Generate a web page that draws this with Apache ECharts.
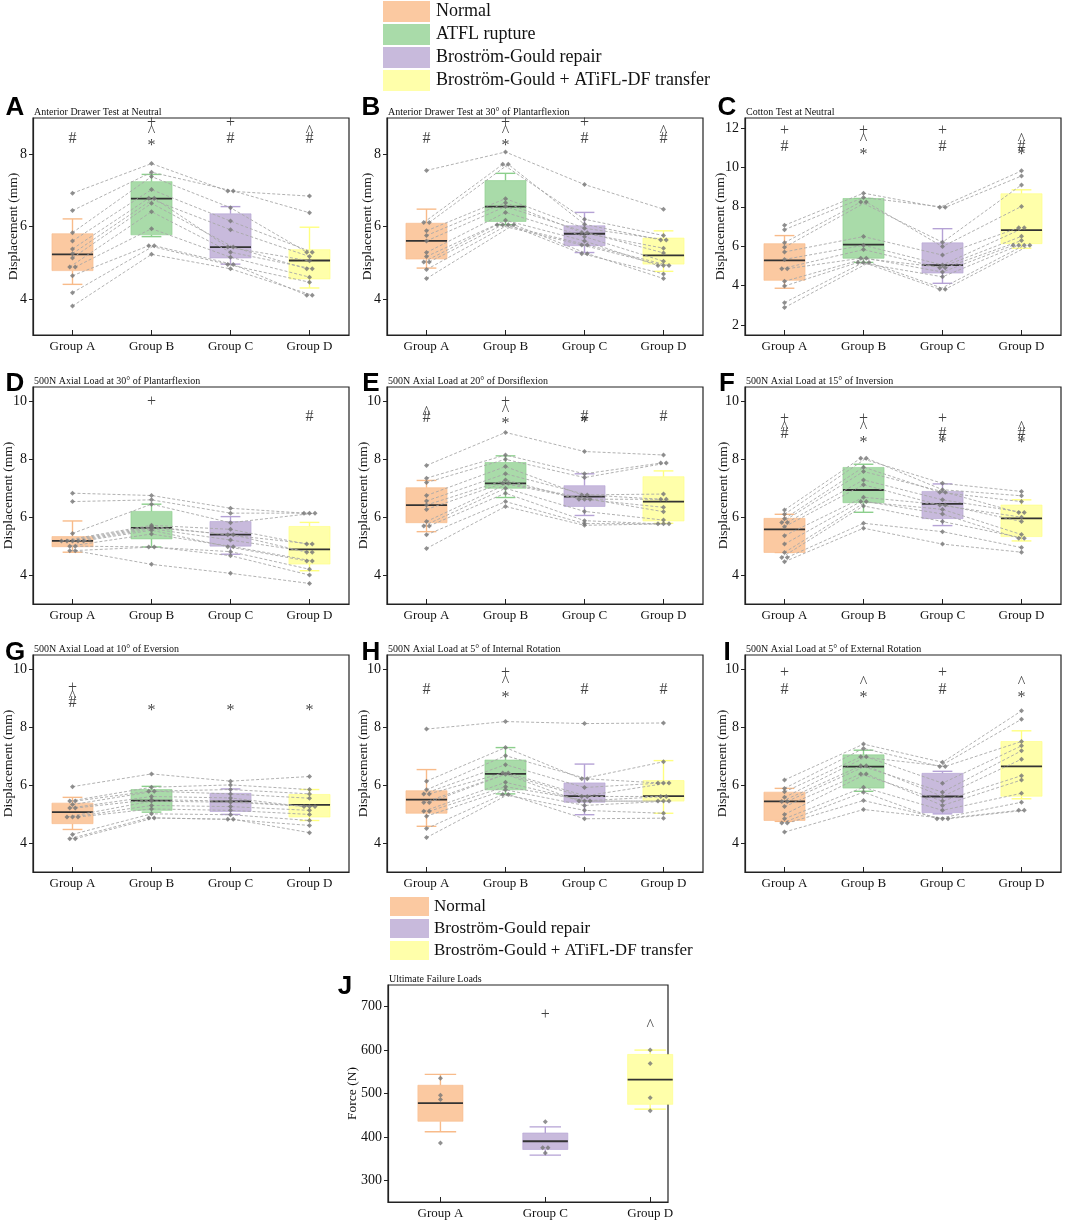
<!DOCTYPE html>
<html>
<head>
<meta charset="utf-8">
<script src="https://cdn.jsdelivr.net/npm/echarts@6/dist/echarts.min.js"></script>
<style>
  html, body { margin: 0; padding: 0; background: #fff; }
  #chart { width: 1065px; height: 1221px; }
</style>
</head>
<body>
<div id="chart"></div>
<script>
var groupNames = ['Group A', 'Group B', 'Group C', 'Group D'];
var groupNamesJ = ['Group A', 'Group C', 'Group D'];
var legendTop = ['Normal', 'ATFL rupture', 'Broström-Gould repair', 'Broström-Gould + ATiFL-DF transfer'];
var legendMid = ['Normal', 'Broström-Gould repair', 'Broström-Gould + ATiFL-DF transfer'];
var fillColors = ['#fbc9a1', '#a9dba9', '#c8badc', '#ffffaa'];
var whiskerColors = ['#f8bb8a', '#8ccf8c', '#b5a2d5', '#ffff80'];
var panelLetters = ['A', 'B', 'C', 'D', 'E', 'F', 'G', 'H', 'I', 'J'];
var panelTitles = [
  'Anterior Drawer Test at Neutral',
  'Anterior Drawer Test at 30° of Plantarflexion',
  'Cotton Test at Neutral',
  '500N Axial Load at 30° of Plantarflexion',
  '500N Axial Load at 20° of Dorsiflexion',
  '500N Axial Load at 15° of Inversion',
  '500N Axial Load at 10° of Eversion',
  '500N Axial Load at 5° of Internal Rotation',
  '500N Axial Load at 5° of External Rotation',
  'Ultimate Failure Loads'
];
var yNames = ['Displacement (mm)', 'Force (N)'];

// specimens per group, high to low (index i is joined across groups)
var ptsA = [
  [6.92, 6.44, 5.83, 5.6, 5.38, 5.25, 5.13, 4.88, 4.88, 4.64, 4.17, 3.8],
  [7.74, 7.5, 7.38, 7.02, 6.78, 6.78, 6.64, 6.41, 5.94, 5.47, 5.47, 5.23],
  [6.98, 6.98, 6.52, 6.15, 5.91, 5.43, 5.43, 5.29, 5.15, 4.95, 4.95, 4.83],
  [6.84, 6.38, 5.29, 5.29, 5.17, 5.05, 4.83, 4.83, 4.6, 4.46, 4.1, 4.1]
];
var ptsB = [
  [7.55, 6.11, 6.11, 5.88, 5.75, 5.6, 5.28, 5.17, 5.02, 5.02, 4.81, 4.56],
  [8.06, 7.72, 7.72, 6.77, 6.66, 6.55, 6.39, 6.17, 6.05, 6.05, 6.05, 6.05],
  [7.16, 6.2, 6.06, 5.95, 5.83, 5.83, 5.72, 5.6, 5.49, 5.49, 5.25, 5.25],
  [6.48, 5.75, 5.63, 5.63, 5.4, 5.27, 5.04, 4.92, 4.92, 4.92, 4.69, 4.56]
];
var ptsC = [
  [7.06, 6.84, 6.18, 5.95, 5.71, 5.33, 4.86, 4.86, 4.22, 3.98, 3.14, 2.89],
  [8.69, 8.47, 8.24, 8.24, 6.49, 6.05, 5.83, 5.39, 5.39, 5.18, 5.18, 5.18],
  [7.97, 7.97, 6.2, 5.98, 5.55, 5.05, 4.91, 4.91, 4.69, 4.45, 3.82, 3.82],
  [9.82, 9.56, 9.11, 8.02, 6.94, 6.94, 6.5, 6.29, 6.05, 6.05, 6.05, 6.05]
];
var ptsD = [
  [6.83, 6.54, 5.44, 5.18, 5.18, 5.18, 5.18, 5.18, 5.0, 5.0, 4.84, 4.84],
  [6.75, 6.6, 6.45, 5.72, 5.68, 5.64, 5.6, 5.55, 5.42, 4.97, 4.97, 4.37],
  [6.31, 6.14, 5.81, 5.58, 5.39, 5.39, 5.21, 4.98, 4.98, 4.81, 4.67, 4.06],
  [6.14, 6.14, 6.14, 5.07, 5.07, 4.79, 4.79, 4.49, 4.49, 4.2, 4.0, 3.71]
];
var ptsE = [
  [7.79, 7.35, 7.2, 6.75, 6.56, 6.42, 6.27, 5.85, 5.7, 5.7, 5.39, 4.92],
  [8.93, 8.15, 8.0, 7.75, 7.5, 7.29, 7.17, 7.17, 7.0, 6.83, 6.54, 6.37],
  [8.27, 7.5, 7.37, 6.77, 6.77, 6.62, 6.62, 6.62, 6.2, 5.88, 5.78, 5.72],
  [8.15, 7.87, 7.87, 6.8, 6.62, 6.62, 6.34, 6.19, 5.9, 5.77, 5.77, 5.77]
];
var ptsF = [
  [6.25, 6.1, 5.95, 5.82, 5.82, 5.67, 5.36, 5.07, 4.78, 4.61, 4.61, 4.46],
  [8.04, 8.04, 7.73, 7.58, 7.29, 7.12, 6.69, 6.54, 6.54, 6.39, 5.79, 5.62],
  [7.17, 6.95, 6.86, 6.86, 6.6, 6.42, 6.42, 6.27, 6.11, 5.85, 5.5, 5.07],
  [6.89, 6.74, 6.54, 6.16, 6.16, 6.0, 5.85, 5.4, 5.27, 5.27, 4.95, 4.79]
];
var ptsG = [
  [5.95, 5.45, 5.45, 5.33, 5.21, 5.21, 4.9, 4.9, 4.9, 4.3, 4.15, 4.15],
  [6.39, 5.93, 5.79, 5.79, 5.61, 5.5, 5.45, 5.3, 5.18, 5.01, 4.87, 4.87],
  [6.14, 6.01, 5.85, 5.7, 5.56, 5.45, 5.41, 5.26, 5.13, 4.98, 4.82, 4.82],
  [6.3, 5.85, 5.7, 5.55, 5.26, 5.26, 5.26, 5.13, 4.99, 4.78, 4.61, 4.36]
];
var ptsH = [
  [7.94, 6.14, 5.84, 5.7, 5.7, 5.4, 5.4, 5.1, 5.1, 4.93, 4.5, 4.19],
  [8.2, 7.3, 7.02, 6.71, 6.42, 6.42, 6.38, 6.1, 5.95, 5.84, 5.68, 5.68],
  [8.13, 6.22, 6.22, 5.92, 5.61, 5.61, 5.45, 5.45, 5.45, 5.3, 5.13, 4.84],
  [8.15, 6.81, 6.08, 6.08, 6.08, 5.61, 5.61, 5.45, 5.45, 5.45, 5.03, 4.86]
];
var ptsI = [
  [6.18, 5.89, 5.77, 5.58, 5.44, 5.44, 5.26, 4.99, 4.84, 4.69, 4.69, 4.38],
  [7.42, 7.27, 6.98, 6.98, 6.67, 6.67, 6.39, 6.39, 5.93, 5.76, 5.47, 5.16],
  [6.79, 6.65, 6.65, 6.07, 5.76, 5.61, 5.45, 5.3, 5.13, 4.84, 4.84, 4.84],
  [8.57, 8.28, 7.51, 7.36, 7.19, 6.9, 6.33, 6.18, 5.72, 5.41, 5.13, 5.13]
];
var ptsJ = [
  [535, 496, 486, 386],
  [435, 375, 375, 363],
  [600, 569, 490, 460]
];

// box stats: [lower whisker, Q1, median, Q3, upper whisker]
var boxA = [[4.4, 4.78, 5.23, 5.8, 6.21], [5.72, 5.77, 6.77, 7.24, 7.44], [4.96, 5.13, 5.43, 6.35, 6.55], [4.3, 4.55, 5.06, 5.36, 5.98]];
var boxB = [[4.85, 5.1, 5.6, 6.09, 6.48], [6.05, 6.14, 6.55, 7.27, 7.47], [5.28, 5.47, 5.8, 6.02, 6.39], [4.76, 4.96, 5.2, 5.68, 5.88]];
var boxC = [[3.87, 4.27, 5.28, 6.13, 6.54], [5.18, 5.39, 6.08, 8.42, 8.42], [4.12, 4.64, 5.04, 6.17, 6.89], [5.9, 6.13, 6.82, 8.66, 8.86]];
var boxD = [[4.79, 4.98, 5.18, 5.33, 5.87], [4.97, 5.25, 5.63, 6.2, 6.45], [4.72, 5.0, 5.4, 5.85, 6.02], [4.15, 4.38, 4.89, 5.68, 5.82]];
var boxE = [[5.5, 5.81, 6.42, 7.02, 7.27], [6.68, 7.0, 7.17, 7.89, 8.12], [6.06, 6.37, 6.71, 7.09, 7.5], [5.79, 5.87, 6.54, 7.4, 7.6]];
var boxF = [[4.78, 4.78, 5.58, 5.96, 6.1], [6.17, 6.5, 6.94, 7.72, 7.83], [5.71, 5.95, 6.46, 6.89, 7.15], [5.18, 5.33, 5.96, 6.42, 6.6]];
var boxG = [[4.47, 4.67, 5.07, 5.38, 5.58], [5.07, 5.13, 5.47, 5.85, 5.96], [4.99, 5.09, 5.44, 5.72, 5.87], [4.78, 4.9, 5.32, 5.68, 5.85]];
var boxH = [[4.58, 5.03, 5.5, 5.81, 6.54], [5.7, 5.84, 6.39, 6.87, 7.3], [4.98, 5.41, 5.62, 6.08, 6.73], [5.03, 5.45, 5.62, 6.16, 6.85]];
var boxI = [[4.75, 4.78, 5.44, 5.76, 5.89], [5.79, 5.9, 6.64, 7.05, 7.21], [5.01, 5.05, 5.61, 6.41, 6.48], [5.53, 5.62, 6.65, 7.51, 7.88]];
var boxJ = [[412, 436, 478, 519, 544], [358, 371, 390, 409, 423], [464, 475, 532, 590, 600]];

// significance marks: [group position, y, symbol]
var marksA = [[1, 8.43, '#'], [2, 8.87, '+'], [2, 8.62, '^'], [2, 8.22, '*'], [3, 8.87, '+'], [3, 8.43, '#'], [4, 8.62, '^'], [4, 8.43, '#']];
var marksB = [[1, 8.43, '#'], [2, 8.87, '+'], [2, 8.62, '^'], [2, 8.22, '*'], [3, 8.87, '+'], [3, 8.43, '#'], [4, 8.62, '^'], [4, 8.43, '#']];
var marksC = [[1, 11.83, '+'], [1, 11.04, '#'], [2, 11.83, '+'], [2, 11.4, '^'], [2, 10.66, '*'], [3, 11.83, '+'], [3, 11.04, '#'], [4, 11.4, '^'], [4, 11.04, '#'], [4, 10.66, '*']];
var marksD = [[2, 10.0, '+'], [4, 9.48, '#']];
var marksE = [[1, 9.62, '^'], [1, 9.45, '#'], [2, 10.0, '+'], [2, 9.68, '^'], [2, 9.22, '*'], [3, 9.48, '#'], [3, 9.25, '*'], [4, 9.48, '#']];
var marksF = [[1, 9.39, '+'], [1, 9.08, '^'], [1, 8.87, '#'], [2, 9.39, '+'], [2, 9.08, '^'], [2, 8.58, '*'], [3, 9.39, '+'], [3, 8.87, '#'], [3, 8.58, '*'], [4, 9.08, '^'], [4, 8.87, '#'], [4, 8.58, '*']];
var marksG = [[1, 9.37, '+'], [1, 9.07, '^'], [1, 8.85, '#'], [2, 8.57, '*'], [3, 8.57, '*'], [4, 8.57, '*']];
var marksH = [[1, 9.31, '#'], [2, 9.89, '+'], [2, 9.57, '^'], [2, 9.03, '*'], [3, 9.31, '#'], [4, 9.31, '#']];
var marksI = [[1, 9.89, '+'], [1, 9.31, '#'], [2, 9.55, '^'], [2, 9.03, '*'], [3, 9.89, '+'], [3, 9.31, '#'], [4, 9.55, '^'], [4, 9.03, '*']];
var marksJ = [[2, 681, '+'], [3, 655, '^']];

var ticksAB = [4, 6, 8];
var ticksC = [2, 4, 6, 8, 10, 12];
var ticksDI = [4, 6, 8, 10];
var ticksJ = [300, 400, 500, 600, 700];

var SERIF = '"Liberation Serif", "Times New Roman", serif';
var SANS = '"Liberation Sans", Arial, sans-serif';

var panels = [
  { pts: ptsA, box: boxA, marks: marksA, yMin: 3, yMax: 9, ticks: ticksAB },
  { pts: ptsB, box: boxB, marks: marksB, yMin: 3, yMax: 9, ticks: ticksAB },
  { pts: ptsC, box: boxC, marks: marksC, yMin: 1.5, yMax: 12.5, ticks: ticksC },
  { pts: ptsD, box: boxD, marks: marksD, yMin: 3, yMax: 10.5, ticks: ticksDI },
  { pts: ptsE, box: boxE, marks: marksE, yMin: 3, yMax: 10.5, ticks: ticksDI },
  { pts: ptsF, box: boxF, marks: marksF, yMin: 3, yMax: 10.5, ticks: ticksDI },
  { pts: ptsG, box: boxG, marks: marksG, yMin: 3, yMax: 10.5, ticks: ticksDI },
  { pts: ptsH, box: boxH, marks: marksH, yMin: 3, yMax: 10.5, ticks: ticksDI },
  { pts: ptsI, box: boxI, marks: marksI, yMin: 3, yMax: 10.5, ticks: ticksDI },
  { pts: ptsJ, box: boxJ, marks: marksJ, yMin: 250, yMax: 750, ticks: ticksJ, last: true }
];

var colLefts = [33, 387, 745];
var rowTops = [118, 387, 655];
var letterX = [15, 371, 727];
var letterY = [108, 384, 652.5];
// horizontal centre of each rotated y-axis title
var yNameX = [13, 367, 720, 8, 363, 723, 8, 363, 722, 352];

function dodge(vals, step) {
  return vals.map(function (v, i) {
    var same = vals.filter(function (w) { return w === v; }).length;
    var idx = vals.slice(0, i).filter(function (w) { return w === v; }).length;
    return (idx - (same - 1) / 2) * step;
  });
}

function renderBox(params, api) {
  var x = api.value(0);
  var ci = api.value(6), bw = api.value(7), cw = api.value(8);
  var lo = api.coord([x, api.value(1)]);
  var q1 = api.coord([x, api.value(2)]);
  var md = api.coord([x, api.value(3)]);
  var q3 = api.coord([x, api.value(4)]);
  var hi = api.coord([x, api.value(5)]);
  var half = api.coord([x + bw / 2, api.value(3)])[0] - md[0];
  var capHalf = api.coord([x + cw / 2, api.value(3)])[0] - md[0];
  var wc = whiskerColors[ci];
  var ws = { stroke: wc, lineWidth: 1.4 };
  return {
    type: 'group',
    children: [
      { type: 'line', shape: { x1: hi[0], y1: hi[1], x2: q3[0], y2: q3[1] }, style: ws },
      { type: 'line', shape: { x1: lo[0], y1: lo[1], x2: q1[0], y2: q1[1] }, style: ws },
      { type: 'line', shape: { x1: hi[0] - capHalf, y1: hi[1], x2: hi[0] + capHalf, y2: hi[1] }, style: ws },
      { type: 'line', shape: { x1: lo[0] - capHalf, y1: lo[1], x2: lo[0] + capHalf, y2: lo[1] }, style: ws },
      { type: 'rect', shape: { x: q3[0] - half, y: q3[1], width: 2 * half, height: Math.max(q1[1] - q3[1], 1) },
        style: { fill: fillColors[ci], stroke: wc, lineWidth: 0.6 } },
      { type: 'line', shape: { x1: md[0] - half, y1: md[1], x2: md[0] + half, y2: md[1] },
        style: { stroke: '#333', lineWidth: 1.8 } }
    ]
  };
}

var grids = [], xAxes = [], yAxes = [], series = [], graphics = [];

panels.forEach(function (p, k) {
  var left, top, width, xMax, names, colorIdx, bw, cw, step, yName;
  if (p.last) {
    left = 388; top = 985; width = 280; xMax = 3.17;
    names = groupNamesJ; colorIdx = [0, 2, 3]; bw = 0.43; cw = 0.3; step = 0.05;
    yName = yNames[1];
  } else {
    left = colLefts[k % 3]; top = rowTops[Math.floor(k / 3)]; width = 316; xMax = 4.5;
    names = groupNames; colorIdx = [0, 1, 2, 3]; bw = 0.52; cw = 0.25; step = 0.07;
    yName = yNames[0];
  }
  var xs = names.map(function (n, i) { return i + 1; });

  grids.push({ left: left, top: top, width: width, height: 217, show: true,
    outerBoundsMode: 'none', containLabel: false,
    borderColor: '#222', borderWidth: 1.2, backgroundColor: 'transparent' });

  xAxes.push({
    type: 'value', gridIndex: k, min: 0.5, max: xMax,
    axisLine: { show: true, lineStyle: { color: '#222', width: 1.2 } },
    axisTick: { show: true, inside: true, length: 5, customValues: xs, lineStyle: { color: '#222' } },
    axisLabel: { customValues: xs, margin: 5, color: '#111', fontFamily: SERIF, fontSize: 13,
      formatter: function (v) { return names[Math.round(v) - 1] || ''; } },
    splitLine: { show: false }
  });

  yAxes.push({
    type: 'value', gridIndex: k, min: p.yMin, max: p.yMax,
    axisLine: { show: true, lineStyle: { color: '#222', width: 1.2 } },
    axisTick: { show: true, inside: false, length: 4, customValues: p.ticks, lineStyle: { color: '#222' } },
    axisLabel: { customValues: p.ticks, margin: 6, color: '#111', fontFamily: SERIF, fontSize: 14 },
    splitLine: { show: false }
  });

  series.push({
    type: 'custom', xAxisIndex: k, yAxisIndex: k, z: 1, silent: true,
    renderItem: renderBox,
    encode: { x: 0, y: [1, 2, 3, 4, 5] },
    data: p.box.map(function (b, g) {
      return [xs[g], b[0], b[1], b[2], b[3], b[4], colorIdx[g], bw, cw];
    })
  });

  var offsets = p.pts.map(function (vals) { return dodge(vals, step); });

  if (!p.last) {
    var n = p.pts[0].length;
    var lineData = [];
    for (var i = 0; i < n; i++) {
      lineData.push({
        coords: p.pts.map(function (vals, g) { return [xs[g] + offsets[g][i], vals[i]]; })
      });
    }
    series.push({
      type: 'lines', coordinateSystem: 'cartesian2d', xAxisIndex: k, yAxisIndex: k,
      polyline: true, z: 2, silent: true,
      lineStyle: { color: '#a8a8a8', width: 0.9, type: [3, 2], opacity: 1 },
      data: lineData
    });
  }

  var pointData = [];
  p.pts.forEach(function (vals, g) {
    vals.forEach(function (v, i) { pointData.push([xs[g] + offsets[g][i], v]); });
  });
  series.push({
    type: 'scatter', xAxisIndex: k, yAxisIndex: k, z: 3, silent: true,
    symbol: 'diamond', symbolSize: 5,
    itemStyle: { color: '#757575' },
    data: pointData
  });

  series.push({
    type: 'scatter', xAxisIndex: k, yAxisIndex: k, z: 4, silent: true,
    symbolSize: 1, itemStyle: { color: 'rgba(0,0,0,0)' },
    label: { show: true, position: 'inside', formatter: '{b}', color: '#111',
      fontFamily: SERIF, fontSize: 16 },
    data: p.marks.map(function (m) { return { name: m[2], value: [m[0], m[1]] }; })
  });

  // panel letter, subtitle, y-axis title
  graphics.push({
    type: 'text', x: p.last ? 345 : letterX[k % 3], y: p.last ? 987 : letterY[Math.floor(k / 3)],
    style: { text: panelLetters[k], fill: '#000', font: 'bold 26px ' + SANS,
      textAlign: 'center', textVerticalAlign: 'middle', align: 'center', verticalAlign: 'middle' }
  });
  graphics.push({
    type: 'text', x: left + 1, y: top - 0.5,
    style: { text: panelTitles[k], fill: '#111', font: '10px ' + SERIF,
      textAlign: 'left', textVerticalAlign: 'bottom', align: 'left', verticalAlign: 'bottom' }
  });
  graphics.push({
    type: 'text', x: yNameX[k], y: top + 108.5, rotation: Math.PI / 2,
    style: { text: yName, fill: '#111', font: '13.5px ' + SERIF,
      textAlign: 'center', textVerticalAlign: 'middle', align: 'center', verticalAlign: 'middle' }
  });
});

function legendBlock(items, colorIdx, x0, y0, rowH, sw, swH, textX, fontSize) {
  items.forEach(function (label, i) {
    graphics.push({
      type: 'rect', shape: { x: x0, y: y0 + i * rowH, width: sw, height: swH },
      style: { fill: fillColors[colorIdx[i]] }
    });
    graphics.push({
      type: 'text', x: textX, y: y0 + i * rowH + swH / 2,
      style: { text: label, fill: '#111', font: fontSize + 'px ' + SERIF,
        textAlign: 'left', textVerticalAlign: 'middle', align: 'left', verticalAlign: 'middle' }
    });
  });
}
legendBlock(legendTop, [0, 1, 2, 3], 383, 1, 23, 47, 21, 436, 18);
legendBlock(legendMid, [0, 2, 3], 390, 897, 22, 39, 19, 434, 17);

var chart = echarts.init(document.getElementById('chart'));
chart.setOption({
  backgroundColor: '#fff',
  animation: false,
  grid: grids,
  xAxis: xAxes,
  yAxis: yAxes,
  series: series,
  graphic: graphics
});
</script>
</body>
</html>
